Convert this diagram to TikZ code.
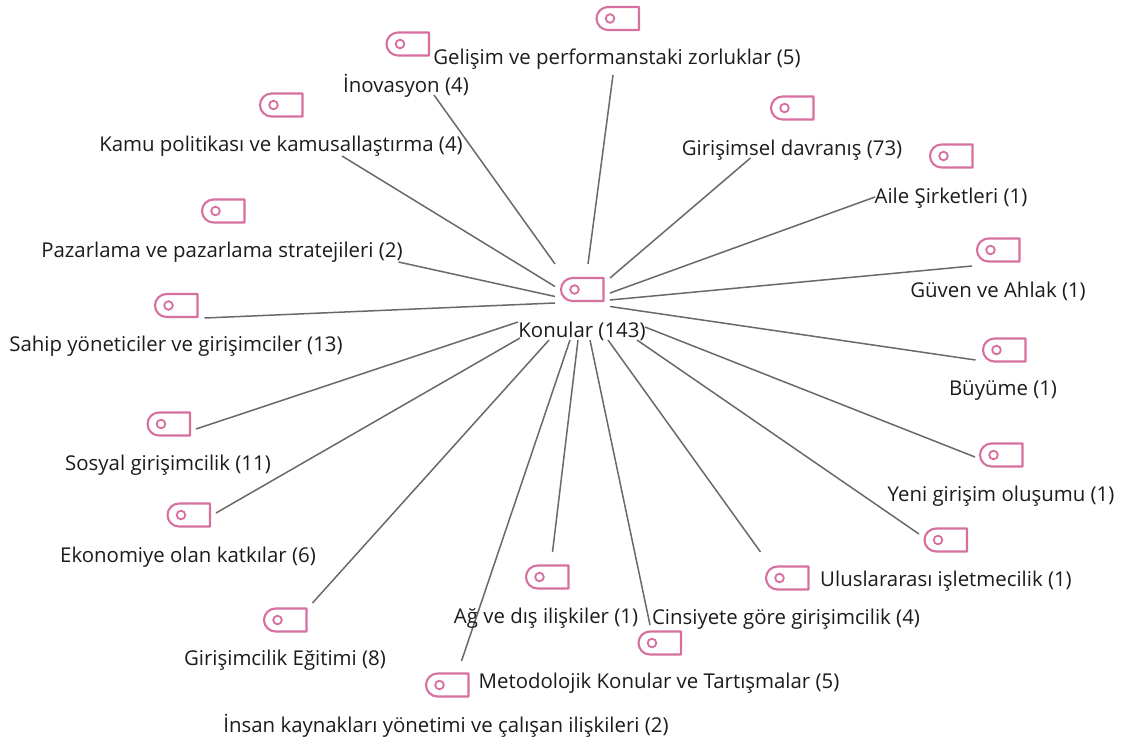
\documentclass[tikz,border=0pt]{standalone}
\usepackage{fontspec}
\setmainfont{Open Sans}
\definecolor{tagpink}{HTML}{D6709F}
\definecolor{linkgray}{HTML}{696969}
\definecolor{inkblack}{HTML}{1C1C1C}
\tikzset{
  tagbox/.style={minimum width=43pt,minimum height=24pt,inner sep=0pt,outer sep=0pt},
  tagline/.style={draw=tagpink,line width=2.1pt,line join=round},
  taglabel/.style={text=inkblack,inner sep=0pt,font=\fontsize{20.4}{24}\selectfont},
  conn/.style={draw=linkgray,line width=1.5pt}
}
\newcommand{\tagicon}[3]{%
  \node[tagbox] (#1) at (#2,#3) {};
  \draw[tagline] ([shift={(21,-11.5)}]#1.center) -- ([shift={(-10,-11.5)}]#1.center)
     arc[start angle=90,end angle=270,radius=11.5pt]
     -- ([shift={(21,11.5)}]#1.center) -- cycle;
  \draw[tagpink,line width=1.8pt] ([shift={(-8,0)}]#1.center) circle[radius=4.3pt];
}
\newcommand{\link}[5]{%
  \draw[conn] ([shift={(#2,#3)}]hub.center) -- ([shift={(#4,#5)}]#1.center);
}
\begin{document}
\begin{tikzpicture}[x=1pt,y=-1pt]
\useasboundingbox (0,0) rectangle (1126,744);
\fill[white] (0,0) rectangle (1126,744);
\tagicon{hub}{582.5}{289.5}
\tagicon{gelisim}{618}{18.5}
\tagicon{inovasyon}{408}{44}
\tagicon{kamu}{281.5}{105}
\tagicon{pazar}{223.5}{211}
\tagicon{sahip}{176.5}{305.5}
\tagicon{sosyal}{169}{424}
\tagicon{ekonomi}{189}{515}
\tagicon{egitim}{285.5}{620}
\tagicon{insan}{447.5}{685}
\tagicon{ag}{547.5}{577}
\tagicon{cinsiyet}{660}{643}
\tagicon{ulus}{787.5}{578}
\tagicon{isletme}{946}{540}
\tagicon{yeni}{1001.5}{455}
\tagicon{buyume}{1004.5}{350}
\tagicon{guven}{998.5}{250}
\tagicon{aile}{951.5}{156}
\tagicon{davranis}{792.5}{108}
\link{gelisim}{5.5}{-25.5}{-5}{56.5}
\link{inovasyon}{-27.5}{-25.5}{26}{51}
\link{kamu}{-27.5}{-3}{60.5}{51}
\link{pazar}{-27.5}{7}{175}{51}
\link{sahip}{-27.5}{13.5}{28}{12.5}
\link{sosyal}{-64.5}{32.5}{27}{5}
\link{ekonomi}{-62.5}{48.5}{27}{-2}
\link{egitim}{-33.5}{50.5}{27}{-17}
\link{insan}{-12.5}{50.5}{14}{-24}
\link{ag}{-4.5}{50.5}{5}{-25}
\link{cinsiyet}{7.5}{50.5}{-10}{-18}
\link{ulus}{25.5}{50.5}{-27}{-26}
\link{isletme}{54.5}{50.5}{-27}{-6}
\link{yeni}{62.5}{37.5}{-26.5}{2}
\link{buyume}{27.5}{17}{-29}{10}
\link{guven}{27.5}{10.5}{-26.5}{16}
\link{aile}{27.5}{3.5}{-76.5}{41}
\link{davranis}{27.5}{-11.5}{-42}{50}
\node[taglabel] (lhub) at (582,331) {Konular (143)};
\node[taglabel] (lgelisim) at (617,59) {Gelişim ve performanstaki zorluklar (5)};
\node[taglabel] (linovasyon) at (406,86) {İnovasyon (4)};
\node[taglabel] (lkamu) at (281,146) {Kamu politikası ve kamusallaştırma (4)};
\node[taglabel] (ldavranis) at (792,150) {Girişimsel davranış (73)};
\node[taglabel] (laile) at (951,198) {Aile Şirketleri (1)};
\node[taglabel] (lguven) at (998,291) {Güven ve Ahlak (1)};
\node[taglabel] (lpazar) at (222,252) {Pazarlama ve pazarlama stratejileri (2)};
\begin{scope}
\clip (10,330) rectangle (400,362);
\node[taglabel] (lsahip) at (176,346) {Sahip yöneticiler ve girişimciler (13)};
\end{scope}
\node[taglabel] (lbuyume) at (1003,391) {Büyüme (1)};
\node[taglabel] (lsosyal) at (168,465) {Sosyal girişimcilik (11)};
\node[taglabel] (lyeni) at (1001,496) {Yeni girişim oluşumu (1)};
\node[taglabel] (lekonomi) at (188,557) {Ekonomiye olan katkılar (6)};
\node[taglabel] (lisletme) at (946,581) {Uluslararası işletmecilik (1)};
\node[taglabel] (lag) at (546,618) {Ağ ve dış ilişkiler (1)};
\node[taglabel] (lcinsiyet) at (786,619) {Cinsiyete göre girişimcilik (4)};
\node[taglabel] (legitim) at (285,660) {Girişimcilik Eğitimi (8)};
\node[taglabel] (lmetod) at (659,683) {Metodolojik Konular ve Tartışmalar (5)};
\node[taglabel] (linsan) at (446,726) {İnsan kaynakları yönetimi ve çalışan ilişkileri (2)};
\end{tikzpicture}
\end{document}
